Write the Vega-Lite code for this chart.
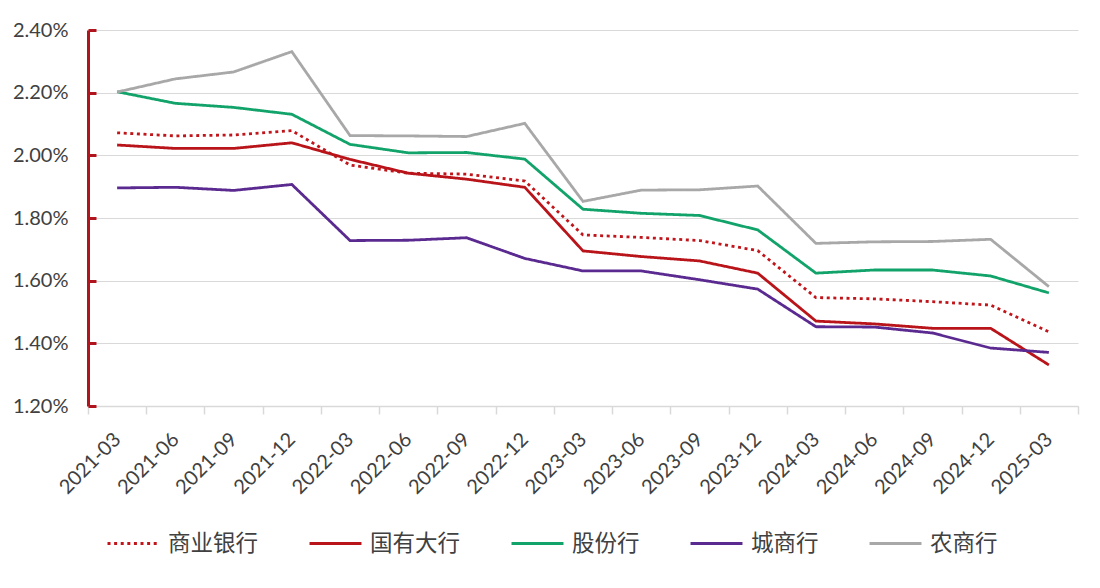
{
  "$schema": "https://vega.github.io/schema/vega-lite/v6.json",
  "width": 990,
  "height": 376,
  "autosize": {"type": "none"},
  "padding": {"left": 88, "top": 30, "right": 22, "bottom": 182},
  "background": "#ffffff",
  "config": {
    "font": "Lato, Noto Sans CJK SC",
    "view": {"stroke": null}
  },
  "datasets": {
    "rates": [
      {"date": "2021-03", "series": "商业银行", "value": 2.072},
      {"date": "2021-06", "series": "商业银行", "value": 2.062},
      {"date": "2021-09", "series": "商业银行", "value": 2.065},
      {"date": "2021-12", "series": "商业银行", "value": 2.079},
      {"date": "2022-03", "series": "商业银行", "value": 1.969},
      {"date": "2022-06", "series": "商业银行", "value": 1.943},
      {"date": "2022-09", "series": "商业银行", "value": 1.940},
      {"date": "2022-12", "series": "商业银行", "value": 1.918},
      {"date": "2023-03", "series": "商业银行", "value": 1.746},
      {"date": "2023-06", "series": "商业银行", "value": 1.738},
      {"date": "2023-09", "series": "商业银行", "value": 1.728},
      {"date": "2023-12", "series": "商业银行", "value": 1.696},
      {"date": "2024-03", "series": "商业银行", "value": 1.546},
      {"date": "2024-06", "series": "商业银行", "value": 1.542},
      {"date": "2024-09", "series": "商业银行", "value": 1.533},
      {"date": "2024-12", "series": "商业银行", "value": 1.522},
      {"date": "2025-03", "series": "商业银行", "value": 1.437},

      {"date": "2021-03", "series": "国有大行", "value": 2.033},
      {"date": "2021-06", "series": "国有大行", "value": 2.022},
      {"date": "2021-09", "series": "国有大行", "value": 2.022},
      {"date": "2021-12", "series": "国有大行", "value": 2.040},
      {"date": "2022-03", "series": "国有大行", "value": 1.987},
      {"date": "2022-06", "series": "国有大行", "value": 1.943},
      {"date": "2022-09", "series": "国有大行", "value": 1.924},
      {"date": "2022-12", "series": "国有大行", "value": 1.898},
      {"date": "2023-03", "series": "国有大行", "value": 1.695},
      {"date": "2023-06", "series": "国有大行", "value": 1.677},
      {"date": "2023-09", "series": "国有大行", "value": 1.663},
      {"date": "2023-12", "series": "国有大行", "value": 1.624},
      {"date": "2024-03", "series": "国有大行", "value": 1.471},
      {"date": "2024-06", "series": "国有大行", "value": 1.462},
      {"date": "2024-09", "series": "国有大行", "value": 1.448},
      {"date": "2024-12", "series": "国有大行", "value": 1.448},
      {"date": "2025-03", "series": "国有大行", "value": 1.331},

      {"date": "2021-03", "series": "股份行", "value": 2.203},
      {"date": "2021-06", "series": "股份行", "value": 2.166},
      {"date": "2021-09", "series": "股份行", "value": 2.153},
      {"date": "2021-12", "series": "股份行", "value": 2.131},
      {"date": "2022-03", "series": "股份行", "value": 2.035},
      {"date": "2022-06", "series": "股份行", "value": 2.008},
      {"date": "2022-09", "series": "股份行", "value": 2.009},
      {"date": "2022-12", "series": "股份行", "value": 1.988},
      {"date": "2023-03", "series": "股份行", "value": 1.828},
      {"date": "2023-06", "series": "股份行", "value": 1.815},
      {"date": "2023-09", "series": "股份行", "value": 1.808},
      {"date": "2023-12", "series": "股份行", "value": 1.762},
      {"date": "2024-03", "series": "股份行", "value": 1.624},
      {"date": "2024-06", "series": "股份行", "value": 1.634},
      {"date": "2024-09", "series": "股份行", "value": 1.634},
      {"date": "2024-12", "series": "股份行", "value": 1.615},
      {"date": "2025-03", "series": "股份行", "value": 1.561},

      {"date": "2021-03", "series": "城商行", "value": 1.896},
      {"date": "2021-06", "series": "城商行", "value": 1.898},
      {"date": "2021-09", "series": "城商行", "value": 1.888},
      {"date": "2021-12", "series": "城商行", "value": 1.907},
      {"date": "2022-03", "series": "城商行", "value": 1.728},
      {"date": "2022-06", "series": "城商行", "value": 1.729},
      {"date": "2022-09", "series": "城商行", "value": 1.737},
      {"date": "2022-12", "series": "城商行", "value": 1.671},
      {"date": "2023-03", "series": "城商行", "value": 1.631},
      {"date": "2023-06", "series": "城商行", "value": 1.631},
      {"date": "2023-09", "series": "城商行", "value": 1.603},
      {"date": "2023-12", "series": "城商行", "value": 1.573},
      {"date": "2024-03", "series": "城商行", "value": 1.453},
      {"date": "2024-06", "series": "城商行", "value": 1.452},
      {"date": "2024-09", "series": "城商行", "value": 1.433},
      {"date": "2024-12", "series": "城商行", "value": 1.385},
      {"date": "2025-03", "series": "城商行", "value": 1.371},

      {"date": "2021-03", "series": "农商行", "value": 2.202},
      {"date": "2021-06", "series": "农商行", "value": 2.244},
      {"date": "2021-09", "series": "农商行", "value": 2.266},
      {"date": "2021-12", "series": "农商行", "value": 2.331},
      {"date": "2022-03", "series": "农商行", "value": 2.063},
      {"date": "2022-06", "series": "农商行", "value": 2.062},
      {"date": "2022-09", "series": "农商行", "value": 2.060},
      {"date": "2022-12", "series": "农商行", "value": 2.102},
      {"date": "2023-03", "series": "农商行", "value": 1.853},
      {"date": "2023-06", "series": "农商行", "value": 1.889},
      {"date": "2023-09", "series": "农商行", "value": 1.890},
      {"date": "2023-12", "series": "农商行", "value": 1.902},
      {"date": "2024-03", "series": "农商行", "value": 1.719},
      {"date": "2024-06", "series": "农商行", "value": 1.724},
      {"date": "2024-09", "series": "农商行", "value": 1.725},
      {"date": "2024-12", "series": "农商行", "value": 1.732},
      {"date": "2025-03", "series": "农商行", "value": 1.581}
    ]
  },
  "data": {"name": "rates"},
  "mark": {"type": "line", "strokeWidth": 2.8, "interpolate": "linear"},
  "encoding": {
    "x": {
      "field": "date",
      "type": "ordinal",
      "sort": null,
      "scale": {"type": "band", "paddingInner": 0, "paddingOuter": 0},
      "bandPosition": 0.5,
      "axis": {
        "title": null,
        "tickBand": "extent",
        "domainColor": "#d9d9d9",
        "domainWidth": 1.5,
        "tickColor": "#d9d9d9",
        "tickWidth": 1.5,
        "tickSize": 8,
        "labelAngle": -45,
        "labelAlign": "right",
        "labelBaseline": "middle",
        "labelPadding": 22,
        "labelFontSize": 20,
        "labelColor": "#404040",
        "labelFont": "Lato",
        "grid": false
      }
    },
    "y": {
      "field": "value",
      "type": "quantitative",
      "scale": {"domain": [1.2, 2.4], "nice": false, "zero": false},
      "axis": {
        "title": null,
        "values": [1.2, 1.4, 1.6, 1.8, 2.0, 2.2, 2.4],
        "labelExpr": "format(datum.value, '.2f') + '%'",
        "domainColor": "#b0141c",
        "domainWidth": 3,
        "tickColor": "#b0141c",
        "tickWidth": 3,
        "tickSize": -8,
        "labelPadding": 28,
        "labelFontSize": 20,
        "labelColor": "#404040",
        "labelFont": "Lato",
        "grid": true,
        "gridColor": "#d9d9d9",
        "gridWidth": 1.2
      }
    },
    "color": {
      "field": "series",
      "type": "nominal",
      "scale": {
        "domain": ["商业银行", "国有大行", "股份行", "城商行", "农商行"],
        "range": ["#c0161b", "#b8141a", "#12a36a", "#5b2a91", "#a8a8a8"]
      },
      "legend": {
        "title": null,
        "orient": "none",
        "legendX": 18,
        "legendY": 486,
        "direction": "horizontal",
        "columns": 5,
        "columnPadding": 44,
        "symbolType": "stroke",
        "symbolSize": 2700,
        "symbolStrokeWidth": 3,
        "labelOffset": 7,
        "labelFontSize": 22.5,
        "labelFont": "Noto Sans CJK SC",
        "labelColor": "#404040"
      }
    },
    "strokeDash": {
      "field": "series",
      "type": "nominal",
      "scale": {
        "domain": ["商业银行", "国有大行", "股份行", "城商行", "农商行"],
        "range": [[3, 3.6], [1, 0], [1, 0], [1, 0], [1, 0]]
      },
      "legend": {
        "title": null,
        "orient": "none",
        "legendX": 18,
        "legendY": 486,
        "direction": "horizontal",
        "columns": 5,
        "columnPadding": 44,
        "symbolType": "stroke",
        "symbolSize": 2700,
        "symbolStrokeWidth": 3,
        "labelOffset": 7,
        "labelFontSize": 22.5,
        "labelFont": "Noto Sans CJK SC",
        "labelColor": "#404040"
      }
    }
  }
}
